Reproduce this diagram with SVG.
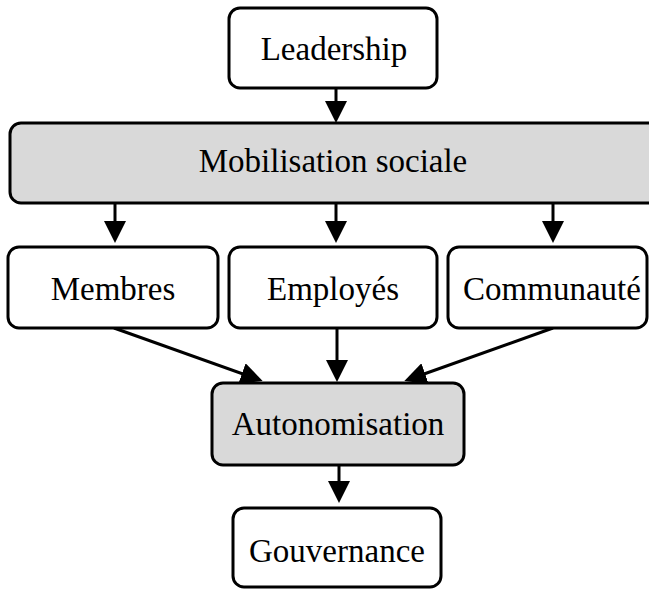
<svg xmlns="http://www.w3.org/2000/svg" width="649" height="589" viewBox="0 0 649 589">
<style>
.box{fill:#ffffff;stroke:#000000;stroke-width:3}
.gray{fill:#d9d9d9}
.lbl{font-family:"Liberation Serif","Times New Roman",serif;font-size:33px;fill:#000000;text-anchor:middle}
.edge{stroke:#000000;stroke-width:3;fill:none}
</style>
<defs>
<marker id="arr" markerUnits="userSpaceOnUse" markerWidth="22" markerHeight="22" viewBox="0 0 22 22" refX="16" refY="11" orient="auto">
<path d="M0,0 L22,11 L0,22 z" fill="#000000"/>
</marker>
</defs>
<g id="connectors">
<line class="edge" x1="336" y1="88" x2="336" y2="117" marker-end="url(#arr)"/>
<line class="edge" x1="115" y1="203" x2="115" y2="237" marker-end="url(#arr)"/>
<line class="edge" x1="336" y1="203" x2="336" y2="237" marker-end="url(#arr)"/>
<line class="edge" x1="553" y1="203" x2="553" y2="237" marker-end="url(#arr)"/>
<line class="edge" x1="114" y1="328" x2="257" y2="379" marker-end="url(#arr)"/>
<line class="edge" x1="337" y1="328" x2="337" y2="376" marker-end="url(#arr)"/>
<line class="edge" x1="553" y1="328" x2="410" y2="379" marker-end="url(#arr)"/>
<line class="edge" x1="339" y1="465" x2="339" y2="497" marker-end="url(#arr)"/>
</g>
<g id="leadership">
<rect class="box" x="229" y="8" width="208" height="80" rx="11"/>
<text class="lbl" x="334" y="60">Leadership</text>
</g>
<g id="mobilisation">
<rect class="box gray" x="10" y="123" width="650" height="80" rx="11"/>
<text class="lbl" x="333" y="172">Mobilisation sociale</text>
</g>
<g id="membres">
<rect class="box" x="8" y="247" width="210" height="81" rx="11"/>
<text class="lbl" x="113" y="300">Membres</text>
</g>
<g id="employes">
<rect class="box" x="229" y="247" width="208" height="81" rx="11"/>
<text class="lbl" x="333" y="300">Employés</text>
</g>
<g id="communaute">
<rect class="box" x="448" y="247" width="199" height="81" rx="11"/>
<text class="lbl" x="552" y="300">Communauté</text>
</g>
<g id="autonomisation">
<rect class="box gray" x="212" y="383" width="252" height="82" rx="11"/>
<text class="lbl" x="338" y="435">Autonomisation</text>
</g>
<g id="gouvernance">
<rect class="box" x="233" y="508" width="208" height="79" rx="11"/>
<text class="lbl" x="337" y="562">Gouvernance</text>
</g>
</svg>
